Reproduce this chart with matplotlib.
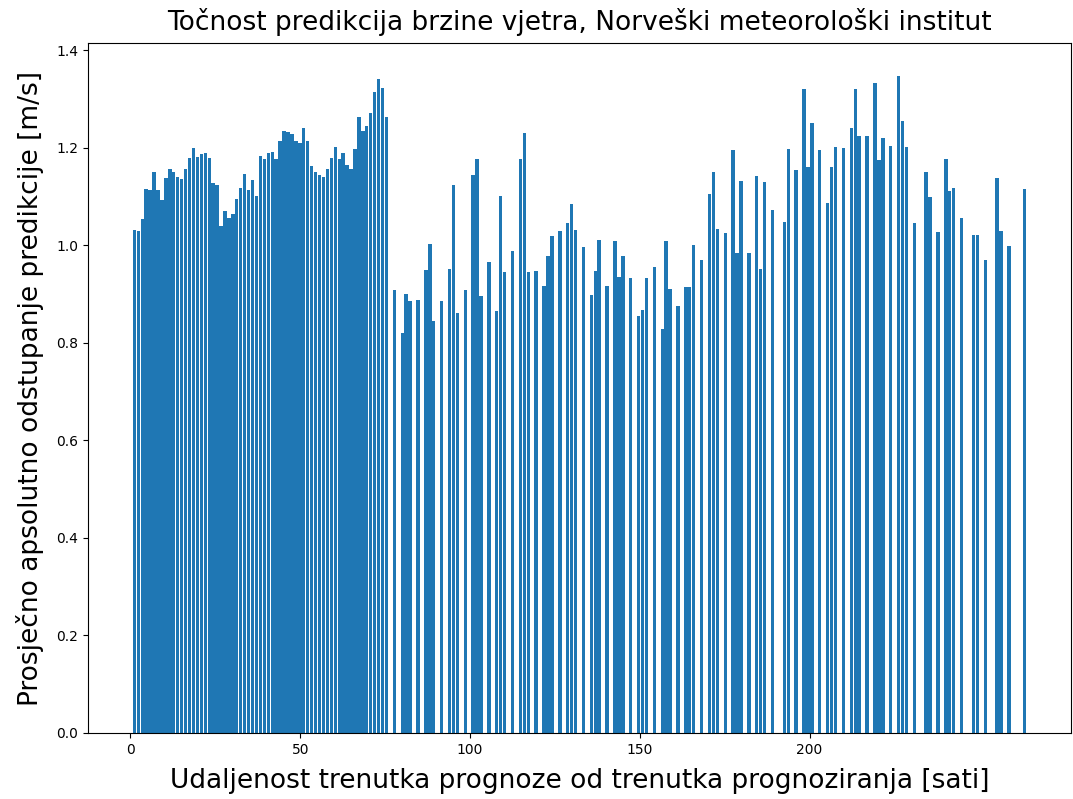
import matplotlib
matplotlib.use("Agg")
import matplotlib.pyplot as plt

# Bar positions (axis units) and bar heights [m/s]
x_block = [
    1.16, 2.32, 3.48, 4.64, 5.80, 6.96, 8.12, 9.28, 10.44, 11.60,
    12.76, 13.92, 15.08, 16.24, 17.40, 18.56, 19.72, 20.88, 22.04, 23.20,
    24.36, 25.52, 26.68, 27.84, 29.00, 30.16, 31.32, 32.48, 33.64, 34.80,
    35.96, 37.12, 38.28, 39.44, 40.60, 41.76, 42.92, 44.08, 45.24, 46.40,
    47.56, 48.72, 49.88, 51.04, 52.20, 53.36, 54.52, 55.68, 56.84, 58.00,
    59.16, 60.32, 61.48, 62.64, 63.80, 64.96, 66.12, 67.28, 68.44, 69.60,
    70.76, 71.92, 73.08, 74.24, 75.40,
]
values_block = [
    1.032, 1.030, 1.053, 1.116, 1.113, 1.149, 1.113, 1.092, 1.137, 1.157,
    1.149, 1.139, 1.135, 1.157, 1.179, 1.200, 1.181, 1.187, 1.189, 1.178,
    1.127, 1.123, 1.039, 1.069, 1.055, 1.063, 1.094, 1.118, 1.145, 1.113,
    1.133, 1.101, 1.183, 1.176, 1.189, 1.191, 1.176, 1.213, 1.234, 1.232,
    1.228, 1.213, 1.210, 1.241, 1.213, 1.162, 1.149, 1.144, 1.139, 1.157,
    1.178, 1.202, 1.176, 1.189, 1.165, 1.157, 1.197, 1.262, 1.234, 1.244,
    1.270, 1.314, 1.340, 1.323, 1.262,
]

x_sparse = [
    77.72, 80.04, 81.20, 82.36, 84.68, 87.00, 88.16, 89.32, 91.64, 93.96,
    95.12, 96.28, 98.60, 100.92, 102.08, 103.24, 105.56, 107.88, 109.04, 110.20,
    112.52, 114.84, 116.00, 117.16, 119.48, 121.80, 122.96, 124.12, 126.44, 128.76,
    129.92, 131.08, 133.40, 135.72, 136.88, 138.04, 140.36, 142.68, 143.84, 145.00,
    147.32, 149.64, 150.80, 151.96, 154.28, 156.60, 157.76, 158.92, 161.24, 163.56,
    164.72, 165.88, 168.20, 170.52, 171.68, 172.84, 175.16, 177.48, 178.64, 179.80,
    182.12, 184.44, 185.60, 186.76, 189.08, 192.56, 193.72, 196.04, 198.36, 199.52,
    200.68, 203.00, 205.32, 206.48, 207.64, 209.96, 212.28, 213.44, 214.60, 216.92,
    219.24, 220.40, 221.56, 223.88, 226.20, 227.36, 228.52, 230.84, 234.32, 235.48,
    237.80, 240.12, 241.28, 242.44, 244.76, 248.24, 249.40, 251.72, 255.20, 256.36,
    258.68, 263.32,
]
values_sparse = [
    0.908, 0.819, 0.900, 0.885, 0.887, 0.950, 1.003, 0.845, 0.885, 0.952,
    1.124, 0.861, 0.908, 1.144, 1.176, 0.895, 0.966, 0.866, 1.100, 0.945,
    0.987, 1.176, 1.229, 0.945, 0.948, 0.916, 0.977, 1.019, 1.029, 1.045,
    1.084, 1.032, 0.997, 0.898, 0.948, 1.010, 0.916, 1.008, 0.935, 0.977,
    0.932, 0.855, 0.868, 0.932, 0.956, 0.829, 1.008, 0.911, 0.876, 0.914,
    0.914, 1.000, 0.969, 1.105, 1.150, 1.034, 1.024, 1.194, 0.984, 1.131,
    0.984, 1.142, 0.952, 1.129, 1.073, 1.047, 1.197, 1.155, 1.320, 1.160,
    1.250, 1.194, 1.087, 1.160, 1.202, 1.200, 1.241, 1.320, 1.223, 1.223,
    1.332, 1.174, 1.220, 1.204, 1.347, 1.255, 1.202, 1.045, 1.150, 1.098,
    1.026, 1.176, 1.110, 1.118, 1.055, 1.021, 1.021, 0.969, 1.137, 1.029,
    0.998, 1.116,
]

x_ticks = [0, 50, 100, 150, 200]

positions = x_block + x_sparse
values = values_block + values_sparse

title = "Točnost predikcija brzine vjetra, Norveški meteorološki institut"
xlabel = "Udaljenost trenutka prognoze od trenutka prognoziranja [sati]"
ylabel = "Prosječno apsolutno odstupanje predikcije [m/s]"

W, H = 1073, 799
fig = plt.figure(figsize=(W / 100, H / 100), dpi=100)
ax = fig.add_axes([88 / W, (H - 733) / H, (1071 - 88) / W, (733 - 43) / H])
ax.bar(positions, values, width=1.0, color="#1f77b4")
ax.set_xticks(x_ticks)
ax.set_title(title, fontsize=19, pad=9)
ax.set_xlabel(xlabel, fontsize=19, labelpad=8)
ax.set_ylabel(ylabel, fontsize=19, labelpad=9)
fig.savefig("out.png", dpi=100)
